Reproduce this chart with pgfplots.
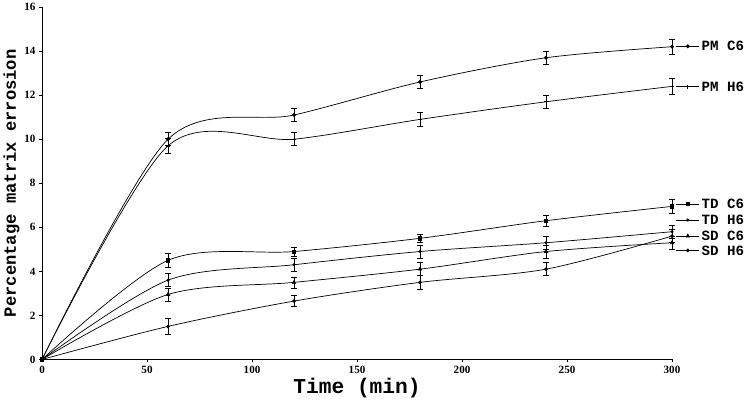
\documentclass[border=0pt]{standalone}
\usepackage{fontspec}
\setmainfont{Liberation Serif}
\newfontfamily\cour{Liberation Mono}
\usepackage{pgfplots}
\pgfplotsset{compat=1.18}
\pgfplotsset{
  eb/.style={black, line width=0.7pt, smooth,
    mark options={solid, fill=black, line width=0.6pt},
    error bars/y dir=both, error bars/y explicit,
    error bars/error bar style={line width=0.7pt},
    error bars/error mark options={rotate=90, mark size=3pt, line width=0.7pt}},
  key/.style={black, line width=0.7pt, mark indices={2},
    mark options={solid, fill=black, line width=0.6pt}},
}
\begin{document}
\begin{tikzpicture}
\begin{axis}[
  scale only axis,
  width=624pt, height=349pt,
  xmin=0, xmax=300, ymin=0, ymax=16,
  axis lines*=left,
  xtick={0,50,...,300}, ytick={0,2,...,16},
  tick align=outside,
  major tick length=3pt,
  tick style={black, line width=0.6pt},
  axis line style={black, line width=0.8pt},
  ticklabel style={font=\fontsize{11}{12}\selectfont\bfseries},
  /pgf/number format/assume math mode=true,
  xlabel={Time (min)},
  ylabel={Percentage matrix errosion},
  xlabel style={font=\cour\bfseries\fontsize{21}{22}\selectfont, yshift=2pt},
  ylabel style={font=\cour\bfseries\fontsize{17}{18}\selectfont, yshift=-2pt},
  clip=false,
]
% PM C6
\addplot[eb, mark=*, mark size=1.6pt] coordinates {
  (0,0) +- (0,0) (60,10.0) +- (0,0.3) (120,11.1) +- (0,0.3)
  (180,12.6) +- (0,0.3) (240,13.7) +- (0,0.3) (300,14.2) +- (0,0.35)
};
% PM H6
\addplot[eb, mark=+, mark size=2pt] coordinates {
  (0,0) +- (0,0) (60,9.7) +- (0,0.35) (120,10.0) +- (0,0.3)
  (180,10.9) +- (0,0.3) (240,11.7) +- (0,0.3) (300,12.4) +- (0,0.35)
};
% TD C6
\addplot[eb, mark=square*, mark size=1.7pt] coordinates {
  (0,0) +- (0,0) (60,4.5) +- (0,0.3) (120,4.9) +- (0,0.2)
  (180,5.5) +- (0,0.2) (240,6.3) +- (0,0.25) (300,6.95) +- (0,0.3)
};
% TD H6
\addplot[eb, mark=*, mark size=1.2pt] coordinates {
  (0,0) +- (0,0) (60,3.6) +- (0,0.3) (120,4.3) +- (0,0.3)
  (180,4.9) +- (0,0.3) (240,5.3) +- (0,0.3) (300,5.8) +- (0,0.3)
};
% SD C6
\addplot[eb, mark=triangle*, mark size=2pt] coordinates {
  (0,0) +- (0,0) (60,2.95) +- (0,0.3) (120,3.5) +- (0,0.25)
  (180,4.1) +- (0,0.3) (240,4.9) +- (0,0.3) (300,5.3) +- (0,0.3)
};
% SD H6
\addplot[eb, mark=*, mark size=1.5pt] coordinates {
  (0,0) +- (0,0) (60,1.5) +- (0,0.35) (120,2.65) +- (0,0.25)
  (180,3.5) +- (0,0.3) (240,4.1) +- (0,0.3) (300,5.6) +- (0,0.3)
};
% legend keys beside the line ends
\addplot[key, mark=*, mark size=1.6pt] coordinates {(302,14.22) (307.5,14.22) (313,14.22)};
\addplot[key, mark=+, mark size=2pt] coordinates {(302,12.39) (307.5,12.39) (313,12.39)};
\addplot[key, mark=square*, mark size=1.7pt] coordinates {(302,7.06) (307.5,7.06) (313,7.06)};
\addplot[key, mark=*, mark size=1.2pt] coordinates {(302,6.33) (307.5,6.33) (313,6.33)};
\addplot[key, mark=triangle*, mark size=2pt] coordinates {(302,5.6) (307.5,5.6) (313,5.6)};
\addplot[key, mark=*, mark size=1.5pt] coordinates {(302,4.95) (307.5,4.95) (313,4.95)};
\foreach \y/\t in {14.22/PM C6, 12.39/PM H6, 7.06/TD C6, 6.33/TD H6, 5.6/SD C6, 4.95/SD H6}{
  \edef\tmp{\noexpand\node[anchor=west, inner sep=1pt, font=\noexpand\cour\noexpand\bfseries\noexpand\fontsize{14}{14}\noexpand\selectfont] at (axis cs:313.5,\y) {\t};}
  \tmp
}
\end{axis}
\end{tikzpicture}
\end{document}
